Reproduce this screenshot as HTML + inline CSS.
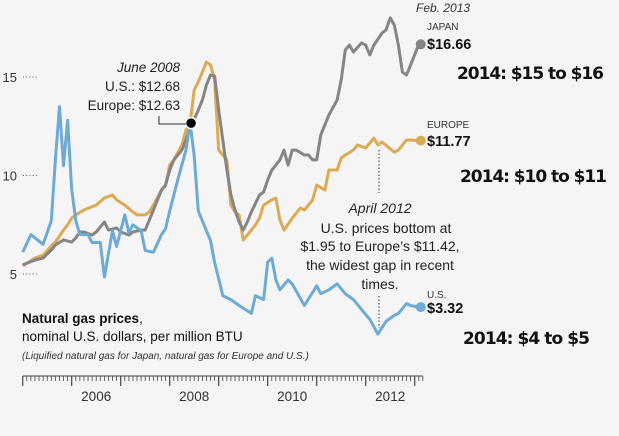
<!DOCTYPE html>
<html><head><meta charset="utf-8">
<style>
body{margin:0;background:#f5f5f5;}
svg{display:block;font-family:"Liberation Sans",sans-serif;}
</style></head><body>
<svg width="619" height="436" viewBox="0 0 619 436">
<rect width="619" height="436" fill="#f5f5f5"/>
<g id="yaxis"></g>
<g id="xaxis"></g>
<g id="series"></g>
<g font-size="13.5" fill="#222" text-anchor="end">
<text x="180" y="72" font-style="italic">June 2008</text>
<text x="180" y="91">U.S.: $12.68</text>
<text x="180" y="110">Europe: $12.63</text>
<path d="M159 116 V124 H188" fill="none" stroke="#333" stroke-width="1"/>
</g>
<g font-size="14" fill="#222" text-anchor="middle">
<line x1="379" y1="150" x2="379" y2="193" stroke="#333" stroke-dasharray="1.5,2"/>
<line x1="379" y1="296" x2="379" y2="328" stroke="#333" stroke-dasharray="1.5,2"/>
<text x="380" y="213" font-style="italic">April 2012</text>
<text x="386" y="233">U.S. prices bottom at</text>
<text x="380" y="251">$1.95 to Europe’s $11.42,</text>
<text x="380" y="270">the widest gap in recent</text>
<text x="380" y="289">times.</text>
</g>
<g fill="#111">
<text x="416" y="12" font-size="12" font-style="italic" fill="#333">Feb. 2013</text>
<text x="427" y="30" font-size="10" fill="#333">JAPAN</text>
<text x="427" y="49" font-size="14.5" font-weight="bold">$16.66</text>
<text x="427" y="128" font-size="10" fill="#333">EUROPE</text>
<text x="427" y="146" font-size="14.5" font-weight="bold">$11.77</text>
<text x="427" y="298" font-size="10" fill="#333">U.S.</text>
<text x="427" y="313" font-size="14.5" font-weight="bold">$3.32</text>
<text x="457" y="79" font-size="17" font-weight="bold" font-family="DejaVu Sans,sans-serif" textLength="147">2014: $15 to $16</text>
<text x="460" y="182" font-size="17" font-weight="bold" font-family="DejaVu Sans,sans-serif" textLength="147">2014: $10 to $11</text>
<text x="463" y="344" font-size="17" font-weight="bold" font-family="DejaVu Sans,sans-serif" textLength="127">2014: $4 to $5</text>
</g>
<g fill="#111">
<text x="22" y="323" font-size="13.5"><tspan font-weight="bold">Natural gas prices</tspan>,</text>
<text x="22" y="341" font-size="13.5">nominal U.S. dollars, per million BTU</text>
<text x="22" y="359" font-size="10" font-style="italic" fill="#333">(Liquified natural gas for Japan, natural gas for Europe and U.S.)</text>
</g>
</svg>
<script>
const yTicks = [5, 10, 15];
const yearLabels = ["2006", "2008", "2010", "2012"];
const japanMonths = [0,3,5,7,8,10,12,13,14,15,17,18,20,21,23,24,26,27,29,30,31,32,34,35,36,37,39,40,41,43,44,45,46,47,48,49,50,51,52,53,54,55,56,58,59,60,61,62,63,64,65,66,67,69,70,71,72,73,75,77,78,79,80,81,83,84,85,86,88,89,90,91,92,93,94,95,97];
const japanValues = [5.46,5.71,5.81,6.22,6.47,6.73,6.62,6.83,7.13,7.13,6.98,7.13,7.64,7.23,7.34,7.13,6.98,7.13,7.23,7.23,7.74,8.25,9.26,9.52,10.28,10.79,11.29,11.8,12.41,13.32,13.83,14.59,15.1,15.05,13.32,11.8,10.28,9.01,8.25,7.64,7.23,7.64,8.15,9.01,9.16,9.77,10.28,10.53,10.79,11.29,10.53,11.29,11.29,11.04,11.04,10.79,10.79,12.06,13.07,13.83,14.85,16.37,16.62,16.27,16.73,16.62,16.12,16.62,17.23,17.39,18.0,17.64,16.62,15.25,15.1,15.61,16.66];
const europeMonths = [0,3,5,7,8,10,11,12,13,15,18,20,22,23,25,27,28,30,31,32,34,35,36,37,39,40,41,42,43,45,46,47,48,50,51,52,53,54,56,57,58,59,61,62,63,64,66,68,69,71,72,74,75,77,78,79,81,82,84,86,87,88,91,92,94,95,97];
const europeValues = [5.41,5.81,5.96,6.42,6.62,7.23,7.49,7.84,8.0,8.25,8.5,8.86,9.01,8.76,8.5,8.15,8.0,8.0,8.15,8.5,9.26,9.52,10.53,10.79,11.55,12.31,12.63,14.34,14.75,15.76,15.61,14.85,11.29,10.79,8.5,8.15,8.0,6.73,7.23,7.49,7.84,8.5,8.76,8.86,7.74,7.23,7.84,8.35,8.25,8.76,9.52,9.26,10.28,10.28,10.89,11.04,11.29,11.55,11.4,11.9,11.55,11.7,11.19,11.29,11.8,11.8,11.77];
const usMonths = [0,2,5,7,8,9,10,11,12,13,14,16,17,19,20,22,23,25,26,27,29,30,32,34,35,36,38,40,41,42,43,45,46,47,49,51,53,56,57,59,60,61,62,63,65,66,69,72,73,75,77,79,81,83,85,87,89,91,92,94,95,97];
const usValues = [6.1,7.0,6.5,7.7,10.8,13.5,10.5,12.8,9.3,7.7,7.0,7.0,6.6,6.6,4.85,7.2,6.4,8.0,7.1,7.5,7.2,6.2,6.1,7.0,7.3,8.2,9.8,11.3,12.68,11.0,8.2,7.2,6.7,5.6,3.9,3.7,3.4,3.0,3.9,3.7,5.6,5.8,4.7,4.2,4.7,4.5,3.4,4.4,4.0,4.2,4.5,4.0,3.7,3.2,2.7,1.95,2.6,2.9,3.0,3.5,3.4,3.32];

const NS = "http://www.w3.org/2000/svg";
const X0 = 22.7, PXM = 49/12;
function xScale(m){ return X0 + m*PXM; }
function yScale(v){ return 274 - (v-5)*19.7; }
function mk(tag, attrs, parent){ const e=document.createElementNS(NS,tag); for(const k in attrs) e.setAttribute(k,attrs[k]); parent.appendChild(e); return e; }

const ya = document.getElementById('yaxis');
yTicks.forEach(t=>{
  const tx = mk('text',{x:17,y:yScale(t)+5,'font-size':13,'text-anchor':'end',fill:'#333'},ya);
  tx.textContent = t;
  
  
  const ln = mk('line',{x1:23,x2:39,y1:yScale(t),y2:yScale(t),stroke:'#555','stroke-dasharray':'1,2.2'},ya);
  
  
});

const xa = document.getElementById('xaxis');
const base = mk('line',{x1:X0,x2:xScale(98),y1:376,y2:376,stroke:'#444','stroke-width':1},xa);


for(let m=0;m<=98;m++){
  const major = m%12===0;
  const t = mk('line',{x1:xScale(m),x2:xScale(m),y1:376,y2:major?386:381,stroke:'#444','stroke-width':major?1.2:0.8},xa);
  
  
}
yearLabels.forEach((lab)=>{
  const yr = parseInt(lab,10);
  const m = (yr-2005)*12 + 6;
  const tx = mk('text',{x:xScale(m),y:401,'font-size':13.5,'text-anchor':'middle',fill:'#333'},xa);
  tx.textContent = lab;
  
  
});

const sg = document.getElementById('series');
function drawSeries(months, values, color, name){
  const d = months.map((m,i)=>(i?'L':'M')+xScale(m).toFixed(1)+' '+yScale(values[i]).toFixed(1)).join(' ');
  const p = mk('path',{d:d,fill:'none',stroke:color,'stroke-width':3,'stroke-linejoin':'round'},sg);
  
  
  const last = months.length-1;
  const c = mk('circle',{cx:xScale(months[last])+2,cy:yScale(values[last]),r:5,fill:color},sg);
  
  
}
drawSeries(europeMonths, europeValues, '#dcaa52', 'europe');
drawSeries(japanMonths, japanValues, '#858585', 'japan');
drawSeries(usMonths, usValues, '#6eaad6', 'us');
const jd = mk('circle',{cx:xScale(41)+1,cy:yScale(12.66),r:5.5,fill:'#000',stroke:'#fff','stroke-width':1.5},sg);


</script>
</body></html>
